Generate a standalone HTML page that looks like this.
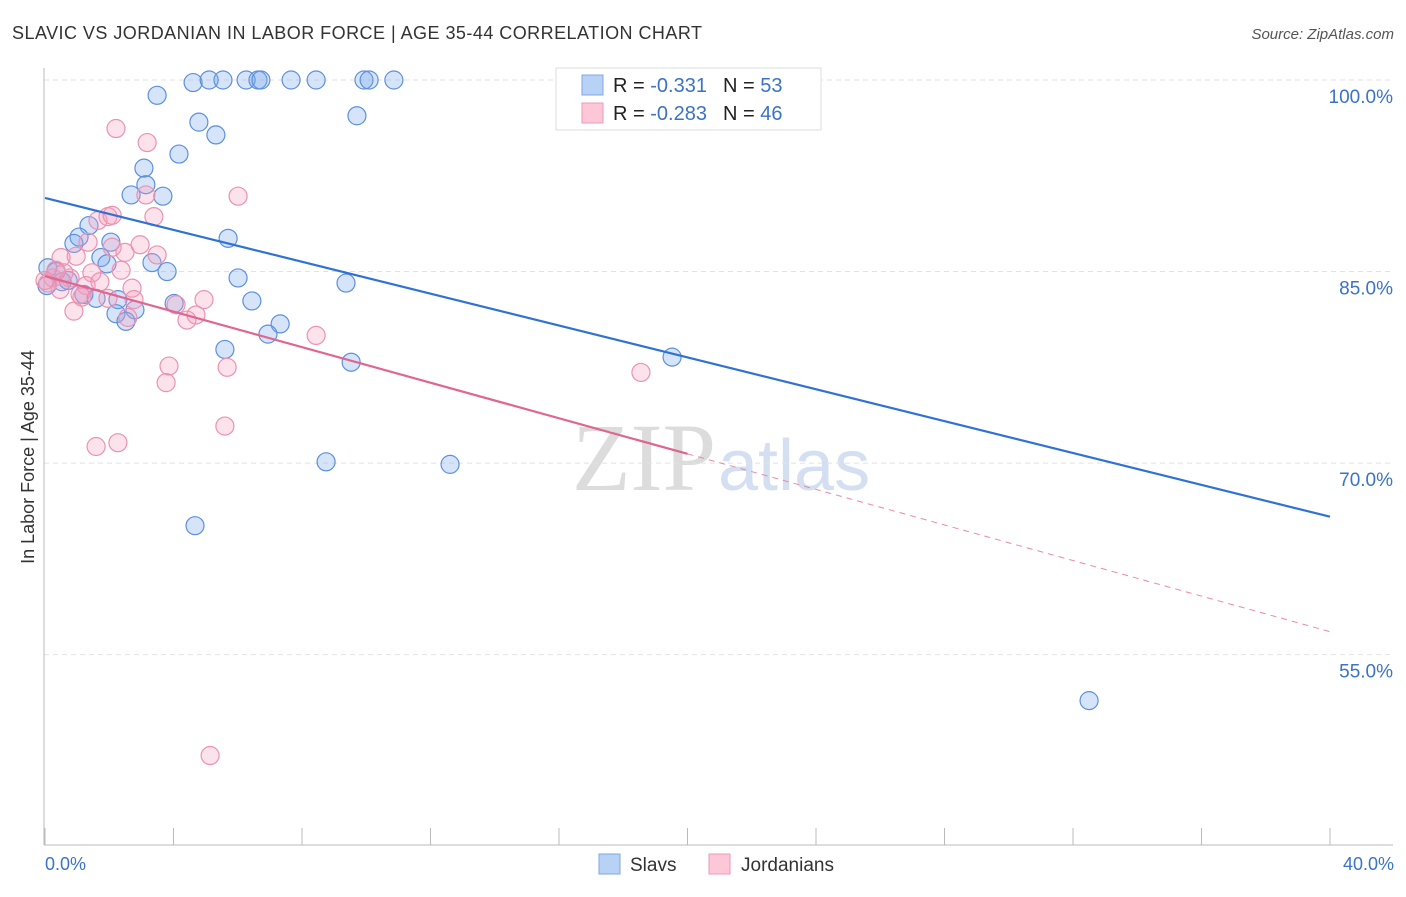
<!DOCTYPE html>
<html><head><meta charset="utf-8"><style>
body{margin:0;background:#fff;font-family:"Liberation Sans",sans-serif;}
</style></head><body>
<svg id="chart" width="1406" height="892" xmlns="http://www.w3.org/2000/svg" font-family="Liberation Sans, sans-serif">
<text x="12" y="39" font-size="18" fill="#333" textLength="690">SLAVIC VS JORDANIAN IN LABOR FORCE | AGE 35-44 CORRELATION CHART</text>
<text x="1394" y="39" font-size="15" fill="#555" font-style="italic" text-anchor="end">Source: ZipAtlas.com</text>
<text x="716" y="490" font-size="96" fill="#dcdcdc" text-anchor="end" font-family="Liberation Serif, serif">ZIP</text>
<text x="718" y="490" font-size="72" fill="#d4e0f2">atlas</text>
<g id="grid"></g>
<g id="axes"></g>
<g id="marks"></g>
<g id="lines"></g>
<text transform="translate(34,457) rotate(-90)" font-size="18" fill="#333" text-anchor="middle">In Labor Force | Age 35-44</text>
<text x="45" y="870" font-size="18" fill="#3a73c9">0.0%</text>
<text x="1394" y="870" font-size="18" fill="#3a73c9" text-anchor="end">40.0%</text>
<g>
<rect x="556" y="68" width="265" height="62" fill="#fff" stroke="#ddd"/>
<rect x="582" y="75" width="21" height="20" fill="#b8d2f5" stroke="#7ea8e6"/>
<rect x="582" y="103" width="21" height="20" fill="#fcc8d8" stroke="#ee9ab6"/>
<text x="613" y="92" font-size="20" fill="#222">R = <tspan fill="#3a73c9"> -0.331</tspan><tspan dx="16">N = </tspan><tspan fill="#3a73c9">53</tspan></text>
<text x="613" y="120" font-size="20" fill="#222">R = <tspan fill="#3a73c9">-0.283</tspan><tspan dx="16">N = </tspan><tspan fill="#3a73c9">46</tspan></text>
</g>
<g>
<rect x="599" y="854" width="21" height="20" fill="#b8d2f5" stroke="#7ea8e6"/>
<text x="630" y="871" font-size="19" fill="#333">Slavs</text>
<rect x="709" y="854" width="21" height="20" fill="#fcc8d8" stroke="#ee9ab6"/>
<text x="741" y="871" font-size="19" fill="#333">Jordanians</text>
</g>
</svg>
<script>
const yTicks=[100,85,70,55];
const yTickLabels=["100.0%","85.0%","70.0%","55.0%"];
const slavX=[3.49,4.61,5.11,5.54,6.26,6.63,6.72,7.66,8.44,9.93,10.09,10.86,9.71,4.79,5.32,4.17,3.08,3.14,2.68,3.67,1.37,1.06,0.90,2.05,5.70,1.74,1.93,3.33,3.80,6.01,9.37,0.09,0.34,0.53,0.72,1.21,1.59,2.27,4.02,6.44,2.21,2.80,2.52,7.32,6.94,5.60,9.53,19.52,8.75,12.61,4.67,32.5,0.06];
const slavY=[98.8,99.8,100,100,100,100,100,100,100,100,100,100,97.2,96.7,95.7,94.2,93.1,91.8,91.0,90.9,88.6,87.7,87.2,87.3,87.6,86.1,85.6,85.7,85.0,84.5,84.1,85.3,85.0,84.2,84.3,83.2,82.9,82.8,82.5,82.7,81.7,82.0,81.1,80.9,80.1,78.9,77.9,78.3,70.1,69.9,65.1,51.4,83.9];
const jorX=[2.21,3.18,3.14,6.01,3.39,1.65,1.96,2.09,1.34,2.09,0.50,0.97,2.49,3.49,1.46,2.37,0.78,0.25,0.09,1.28,2.71,1.15,1.96,4.08,4.95,4.70,4.42,2.58,0.90,8.44,3.86,5.67,3.77,18.55,5.60,1.59,2.27,5.14,0.34,0.59,1.71,0.0,0.47,2.77,1.09,2.96];
const jorY=[96.2,95.1,91.0,90.9,89.3,89.0,89.3,89.4,87.3,86.9,86.1,86.2,86.5,86.3,84.9,85.1,84.5,84.5,84.1,83.9,83.7,83.0,82.9,82.4,82.8,81.6,81.2,81.4,81.9,80.0,77.6,77.5,76.3,77.1,72.9,71.3,71.6,47.1,85.1,84.9,84.2,84.3,83.6,82.8,83.2,87.1];
const slavTrend=[90.76,65.8];
const jorTrend=[84.65,56.8];
const jorSolidEnd=20;
const X=v=>45+v/40*1285;
const Y=v=>80+(100-v)*12.77;
const NS="http://www.w3.org/2000/svg";
function mk(t,a,p){const e=document.createElementNS(NS,t);for(const k in a)e.setAttribute(k,a[k]);p.appendChild(e);return e;}
const grid=document.getElementById('grid'),axes=document.getElementById('axes'),marks=document.getElementById('marks'),lines=document.getElementById('lines');
yTicks.forEach((t,i)=>{
 const l=mk('line',{x1:44,x2:1393,y1:Y(t),y2:Y(t),stroke:'#e2e2e2','stroke-dasharray':'5,4'},grid);
 
 
 const tx=mk('text',{x:1393,y:Y(t)+23,'font-size':19,fill:'#3a73c9','text-anchor':'end'},grid);
 tx.textContent=yTickLabels[i];
 
 
});
const ya=mk('line',{x1:44,x2:44,y1:68,y2:845,stroke:'#bbb'},axes);


const xa=mk('line',{x1:44,x2:1393,y1:845,y2:845,stroke:'#bbb'},axes);


for(let i=0;i<=10;i++){
 const t=mk('line',{x1:X(i*4),x2:X(i*4),y1:828,y2:845,stroke:'#bbb'},axes);
 
 
}
slavX.forEach((x,i)=>{
 const c=mk('circle',{cx:X(x),cy:Y(slavY[i]),r:9,fill:'rgba(120,165,235,0.3)',stroke:'#5d90dc','stroke-width':1.2},marks);
 
 
});
jorX.forEach((x,i)=>{
 const c=mk('circle',{cx:X(x),cy:Y(jorY[i]),r:9,fill:'rgba(245,160,190,0.3)',stroke:'#ec92b0','stroke-width':1.2},marks);
 
 
});
const sl=mk('line',{x1:X(0),y1:Y(slavTrend[0]),x2:X(40),y2:Y(slavTrend[1]),stroke:'#2f72d4','stroke-width':2.2},lines);


const jAt=x=>jorTrend[0]+(jorTrend[1]-jorTrend[0])*x/40;
const jl=mk('line',{x1:X(0),y1:Y(jorTrend[0]),x2:X(jorSolidEnd),y2:Y(jAt(jorSolidEnd)),stroke:'#e0668f','stroke-width':2.2},lines);


const jd=mk('line',{x1:X(jorSolidEnd),y1:Y(jAt(jorSolidEnd)),x2:X(40),y2:Y(jorTrend[1]),stroke:'#e88aa8','stroke-width':1,'stroke-dasharray':'6,5'},lines);


</script>
</body></html>
